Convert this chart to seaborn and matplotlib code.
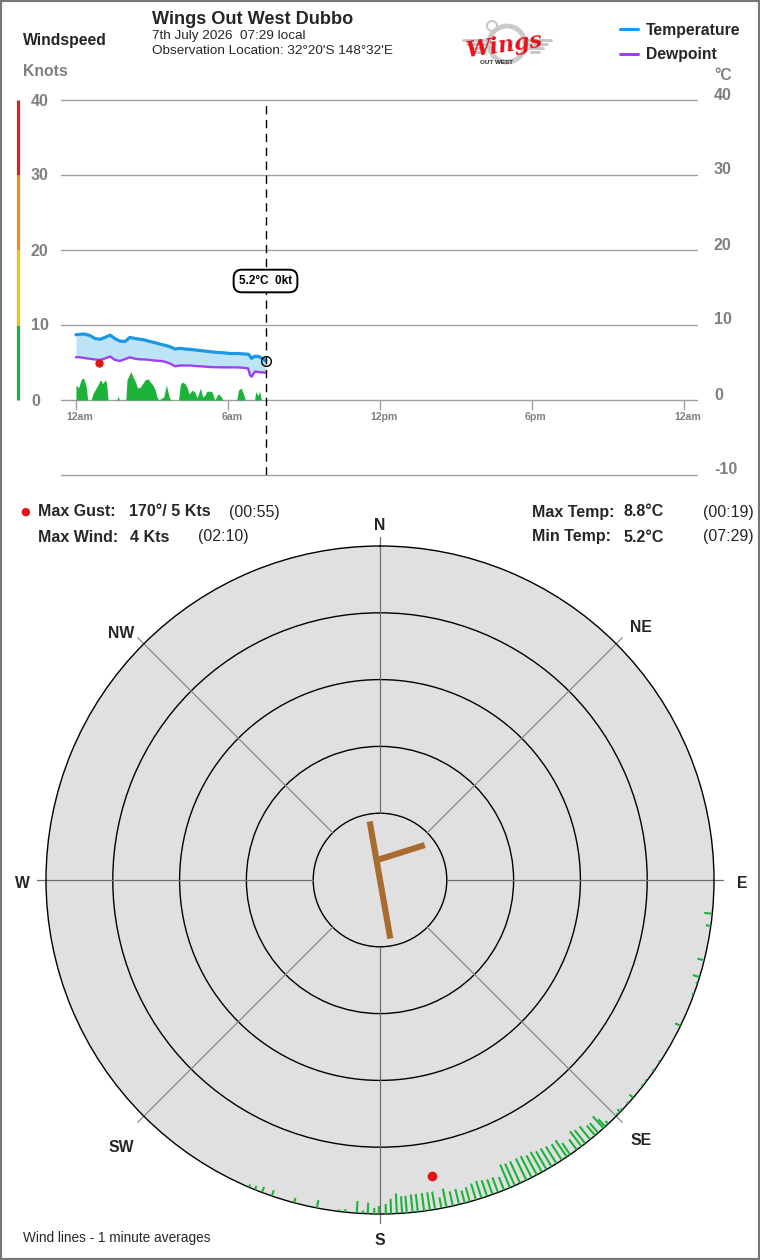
import numpy as np
import pandas as pd
import matplotlib
matplotlib.use("Agg")
import matplotlib.pyplot as plt
import matplotlib.transforms as mtransforms
from matplotlib.patches import Ellipse, Rectangle
from matplotlib.lines import Line2D
import seaborn as sns

# ---------------- data ----------------
obs_min = [0, 9, 19, 33, 45, 57, 69, 81, 92, 104, 116, 128, 140, 152, 163, 175, 187, 199,
           211, 223, 235, 246, 258, 270, 286, 302, 317, 333, 349, 365, 381, 396, 408, 412,
           416, 424, 432, 444, 449]
temp_c = [8.7, 8.75, 8.8, 8.6, 8.2, 8.1, 8.35, 8.65, 8.2, 7.85, 7.8, 8.35, 8.2, 8.1, 8.0, 7.8,
          7.65, 7.45, 7.3, 7.1, 6.8, 6.9, 6.8, 6.75, 6.65, 6.55, 6.45, 6.35, 6.3, 6.2, 6.2, 6.15,
          6.1, 5.9, 5.55, 5.85, 5.8, 5.5, 5.2]
dew_c = [5.7, 5.7, 5.6, 5.5, 5.4, 5.35, 5.55, 5.8, 5.35, 5.2, 5.45, 5.7, 5.5, 5.42, 5.4, 5.35,
         5.25, 5.22, 5.1, 4.85, 4.5, 4.6, 4.6, 4.6, 4.52, 4.47, 4.4, 4.37, 4.35, 4.35, 4.35, 4.3,
         4.2, 3.35, 3.1, 3.8, 3.72, 3.67, 3.64]

wind_min = [0, 2, 6, 13, 18, 24, 28, 36, 40, 46, 52, 58, 63, 70, 73, 76, 97, 100, 103, 118,
            121, 126, 130, 135, 141, 146, 152, 158, 164, 171, 176, 182, 188, 192, 196, 208,
            214, 220, 224, 243, 247, 251, 258, 263, 268, 275, 281, 287, 295, 300, 305, 309,
            316, 322, 329, 336, 342, 348, 381, 385, 391, 397, 401, 423, 426, 431, 435, 439]
wind_kt = [2.0, 1.9, 1.6, 2.8, 2.9, 1.9, 0.0, 0.0, 0.8, 1.4, 2.0, 2.7, 2.2, 2.7, 2.0, 0.0,
           0.0, 0.5, 0.0, 0.0, 2.7, 3.3, 3.8, 3.1, 2.4, 1.6, 1.7, 2.2, 2.7, 2.8, 2.4, 2.0, 1.3,
           0.4, 0.0, 0.4, 2.0, 0.6, 0.0, 0.0, 2.0, 2.4, 2.2, 1.7, 0.8, 1.3, 1.1, 0.3, 1.6, 0.4,
           0.6, 1.1, 1.2, 1.1, 0.0, 0.8, 0.6, 0.0, 0.0, 1.3, 1.6, 0.8, 0.0, 0.0, 1.1, 0.6, 1.2,
           0.0]

gust_min, gust_kt, gust_dir = 55, 5, 170
now_min, now_temp, now_wind, now_dir = 449, 5.2, 0, 170

hour_ticks = [0, 360, 720, 1080, 1440]
hour_labels = ["12am", "6am", "12pm", "6pm", "12am"]
left_ticks = [0, 10, 20, 30, 40]
right_ticks = [-10, 0, 10, 20, 30, 40]
band_edges = [0, 10, 20, 30, 40]

# one-minute wind lines: direction (deg) and speed (kt)
line_dir = [95.8, 97.9, 103.9, 106.9, 108, 110, 115.9, 123, 124.9, 127, 128, 130.7, 132, 133.5,
            134, 134.6, 136.9, 137.6, 138, 139.2, 139.9, 141, 142.1, 142.9, 143.9, 145.3, 146,
            147, 148.1, 149.1, 150.1, 151, 152, 153, 154, 155.2, 156.2, 157.1, 158.2, 159.3,
            160.3, 161.3, 162.3, 163.3, 164.4, 165.3, 166.3, 167.4, 168.5, 169.4, 170.5, 171.4,
            172.4, 173.5, 174.4, 175.4, 176.2, 177.1, 178.1, 179.0, 180.2, 181.0, 182.1, 182.9,
            184.0, 186.0, 187.0, 190.9, 194.9, 198.9, 200.7, 202.0, 203.1]
line_kt = [1.2, 0.75, 1.05, 1.05, 0.3, 0.3, 0.9, 0.3, 0.3, 0.3, 0.3, 0.75, 0.3, 0.3,
           0.6, 0.3, 0.6, 1.5, 2.4, 1.95, 1.95, 2.55, 2.55, 2.85, 1.95, 2.1, 3.0,
           2.85, 3.0, 3.15, 3.15, 3.45, 3.3, 3.6, 3.6, 3.6, 3.6, 3.75, 2.1, 2.4,
           2.4, 2.55, 2.7, 2.55, 2.25, 1.95, 2.4, 2.25, 2.85, 1.65, 2.7, 2.7,
           2.7, 2.7, 2.7, 2.55, 2.55, 3.0, 2.25, 1.5, 1.2, 0.9, 1.65, 0.45,
           1.8, 0.45, 0.3, 1.2, 0.75, 0.9, 0.9, 0.6, 0.45]

compass_labels = ["N", "NE", "E", "SE", "S", "SW", "W", "NW"]
compass_deg = [0, 45, 90, 135, 180, 225, 270, 315]
ring_kt = [10, 20, 30, 40]
rose_max = 50

# ---------------- style ----------------
sns.set_theme(style="white")
plt.rcParams['font.family'] = ['Liberation Sans', 'DejaVu Sans']

W, H = 760, 1260
C_TEMP = '#1c97e3'
C_DEW = '#a03ff0'
C_FILL = '#bde3f6'
C_WIND = '#1db33b'
C_RED = '#e01515'
C_GRAY = '#808080'
C_GRID = '#a0a0a0'

fig = plt.figure(figsize=(W / 100, H / 100), dpi=100)
fig.patch.set_facecolor('white')

def fxy(px, py):
    return px / W, 1 - py / H

def px_shift(dx, dy):
    return mtransforms.ScaledTranslation(dx / 100, -dy / 100, fig.dpi_scale_trans)

# ---------------- top time chart ----------------
ax = fig.add_axes([61 / W, 1 - 475 / H, 636 / W, 375 / H])
ax.set_facecolor('none')
ax.set_xlim(-35.4, 1471)
ax.set_ylim(-10, 40)
for s in ['left', 'right', 'top']:
    ax.spines[s].set_visible(False)
ax.spines['bottom'].set_position(('data', 0))
ax.spines['bottom'].set_color('none')
ax.grid(False)

for v in right_ticks:
    ax.axhline(v, color=C_GRID, lw=1, clip_on=False, zorder=0)

df = pd.DataFrame({'minute': obs_min, 'Temperature': temp_c, 'Dewpoint': dew_c})
dfw = pd.DataFrame({'minute': wind_min, 'wind': wind_kt})

ax.fill_between(dfw['minute'], 0, dfw['wind'], color=C_WIND, lw=0, zorder=2)
ax.fill_between(df['minute'], df['Dewpoint'], df['Temperature'], color=C_FILL, lw=0, zorder=2)
sns.lineplot(data=df, x='minute', y='Temperature', ax=ax, color=C_TEMP, lw=2.3, zorder=3,
             legend=False)
sns.lineplot(data=df, x='minute', y='Dewpoint', ax=ax, color=C_DEW, lw=1.7, zorder=3,
             legend=False)
ax.plot([gust_min], [gust_kt], 'o', color=C_RED, ms=5, zorder=4)
ax.axvline(now_min, color='black', lw=1, dashes=(6, 4), zorder=4)
ax.plot([now_min], [now_temp], 'o', mfc='none', mec='black', ms=7, mew=1, zorder=5)
ax.annotate(f"{now_temp}°C  {now_wind}kt", xy=(now_min, now_temp), xytext=(0, 80),
            textcoords='offset pixels', ha='center', va='center', fontsize=8.5,
            fontweight='bold', color='black', zorder=6,
            bbox=dict(boxstyle='round,pad=0.45,rounding_size=0.7', fc='white', ec='black', lw=1.4))

ax.set_xticks(hour_ticks)
ax.set_xticklabels(hour_labels, fontweight='bold')
ax.tick_params(axis='x', bottom=True, direction='out', length=7, width=1, color=C_GRID,
               pad=2, labelsize=7.6, labelcolor=C_GRAY)
for lab in ax.get_xticklabels():
    lab.set_transform(lab.get_transform() + px_shift(4, 0))
ax.set_yticks([])
ax.set_xlabel('')
ax.set_ylabel('')

tl = mtransforms.blended_transform_factory(ax.transAxes, ax.transData)
for v in left_ticks:
    ax.text((31 - 61) / 636, v, str(v), transform=tl + px_shift(0, 1), ha='left', va='center',
            fontsize=11.5, fontweight='bold', color=C_GRAY)
for v in right_ticks:
    ax.text((714 - 61) / 636, v, str(v), transform=tl + px_shift(0, -5), ha='left',
            va='center', fontsize=11.5, fontweight='bold', color=C_GRAY)

band_colors = ['#1db33b', '#f5c400', '#f58a1f', '#e0201b']
for i in range(4):
    ax.plot([(17.5 - 61) / 636] * 2, [band_edges[i], band_edges[i + 1]],
            transform=tl, color=band_colors[i], lw=2.3, clip_on=False, solid_capstyle='butt')

# ---------------- header ----------------
fig.text(*fxy(23, 40), "Windspeed", fontsize=11.3, fontweight='bold', va='center')
fig.text(*fxy(23, 71), "Knots", fontsize=11.3, fontweight='bold', va='center', color=C_GRAY)
fig.text(*fxy(152, 20), "Wings Out West Dubbo", fontsize=13.1, fontweight='bold', va='center')
fig.text(*fxy(152, 36), "7th July 2026  07:29 local", fontsize=9.7, va='center')
fig.text(*fxy(152, 51), "Observation Location: 32°20'S 148°32'E", fontsize=9.7, va='center')
fig.text(*fxy(723, 76), "°C", fontsize=11.3, fontweight='bold', va='center', ha='center',
         color=C_GRAY)

for py, lab, col in [(29, "Temperature", C_TEMP), (54, "Dewpoint", C_DEW)]:
    x0, y0 = fxy(620, py)
    x1, _ = fxy(638, py)
    fig.add_artist(Line2D([x0, x1], [y0, y0], color=col, lw=2.2, transform=fig.transFigure))
    fig.text(*fxy(646, py + 1), lab, fontsize=11.3, fontweight='bold', va='center')

# logo (approximation)
fig.add_artist(Ellipse(fxy(507, 44), 36 / W, 36 / H, transform=fig.transFigure, fill=False,
                       ec='#cacaca', lw=3.5))
for k, dy in enumerate([40, 44, 48, 52]):
    for side in (-1, 1):
        xa, ya = fxy(507 + side * (18 + 2 * k), dy)
        xb, yb = fxy(507 + side * (44 - 4 * k), dy)
        fig.add_artist(Line2D([xa, xb], [ya, yb], color='#c4c4c4', lw=2.0,
                              transform=fig.transFigure))
fig.add_artist(Ellipse(fxy(492, 26), 10 / W, 10 / H, transform=fig.transFigure, fill=False,
                       ec='#c8c8c8', lw=1.5))
fig.text(*fxy(505, 46), "Wings", fontsize=16, color='#e8101a', style='italic',
         fontweight='bold', family=['DejaVu Serif'], ha='center', va='center', rotation=8)
fig.text(*fxy(496, 62), "OUT WEST", fontsize=4.5, fontweight='bold', ha='center', va='center')

# stats
fig.text(*fxy(25, 512), "●", fontsize=8, color=C_RED, ha='center', va='center',
         family=['DejaVu Sans'])
stats = [(38, 512, "Max Gust:", 'bold'), (129, 512, f"{gust_dir}°/ {gust_kt} Kts", 'bold'),
         (229, 512, "(00:55)", 'normal'),
         (38, 537, "Max Wind:", 'bold'), (130, 537, f"{max(wind_kt):.0f} Kts", 'bold'),
         (198, 537, "(02:10)", 'normal'),
         (532, 512, "Max Temp:", 'bold'), (624, 512, f"{max(temp_c)}°C", 'bold'),
         (703, 512, "(00:19)", 'normal'),
         (532, 537, "Min Temp:", 'bold'), (624, 537, f"{min(temp_c)}°C", 'bold'),
         (703, 537, "(07:29)", 'normal')]
for px, py, s, w in stats:
    fig.text(*fxy(px, py), s, fontsize=11.5, fontweight=w, va='center')

fig.text(*fxy(23, 1238), "Wind lines - 1 minute averages", fontsize=9.8, va='center')

# ---------------- wind rose ----------------
R = 334
pax = fig.add_axes([(380 - R) / W, 1 - (880 + R) / H, 2 * R / W, 2 * R / H], projection='polar')
pax.set_theta_zero_location('N')
pax.set_theta_direction(-1)
pax.set_ylim(0, rose_max)
pax.set_facecolor('#e0e0e0')
pax.set_yticks(ring_kt)
pax.set_yticklabels([])
pax.set_xticks([])
pax.grid(False)
pax.yaxis.grid(True, color='black', lw=1)
pax.spines['polar'].set_color('black')
pax.spines['polar'].set_linewidth(1)

label_nudge = {"N": (0, 4), "NE": (1, 7), "E": (3, 3), "SE": (1, 1), "S": (0, 2),
               "SW": (1, 8), "W": (1, 3), "NW": (1, 13)}
for d, lab in zip(compass_deg, compass_labels):
    col = '#6e6e6e' if d % 90 == 0 else '#8a8a8a'
    pax.plot([np.deg2rad(d)] * 2, [ring_kt[0], rose_max * 1.026], color=col, lw=0.9,
             clip_on=False, zorder=2)
    r_lab = rose_max * (1.074 if d % 90 == 0 else 1.10)
    dx, dy = label_nudge[lab]
    pax.text(np.deg2rad(d), r_lab, lab, ha='center', va='center', fontsize=11.3,
             fontweight='bold', transform=pax.transData + px_shift(dx, dy))

for d, s in zip(line_dir, line_kt):
    pax.plot([np.deg2rad(d)] * 2, [rose_max, rose_max - s], color=C_WIND, lw=1.5,
             solid_capstyle='butt', zorder=3)

pax.plot([np.deg2rad(gust_dir)], [rose_max - gust_kt], 'o', color=C_RED, ms=6, zorder=4)

# direction needle
needle_len = 8.9
brown = '#a86c30'
th = np.deg2rad(now_dir)
pax.plot([th + np.pi, th + np.pi, th, th], [needle_len, 0, 0, needle_len], color=brown, lw=4.4,
         solid_capstyle='butt', zorder=5)
pax.plot([th + np.pi, np.deg2rad(52)], [3.0, 8.5], color=brown, lw=4.4,
         solid_capstyle='butt', zorder=5)

fig.add_artist(Rectangle((0, 0), 1, 1, transform=fig.transFigure, fill=False, ec='#777777',
                         lw=3))

fig.savefig('out.png', dpi=100)
